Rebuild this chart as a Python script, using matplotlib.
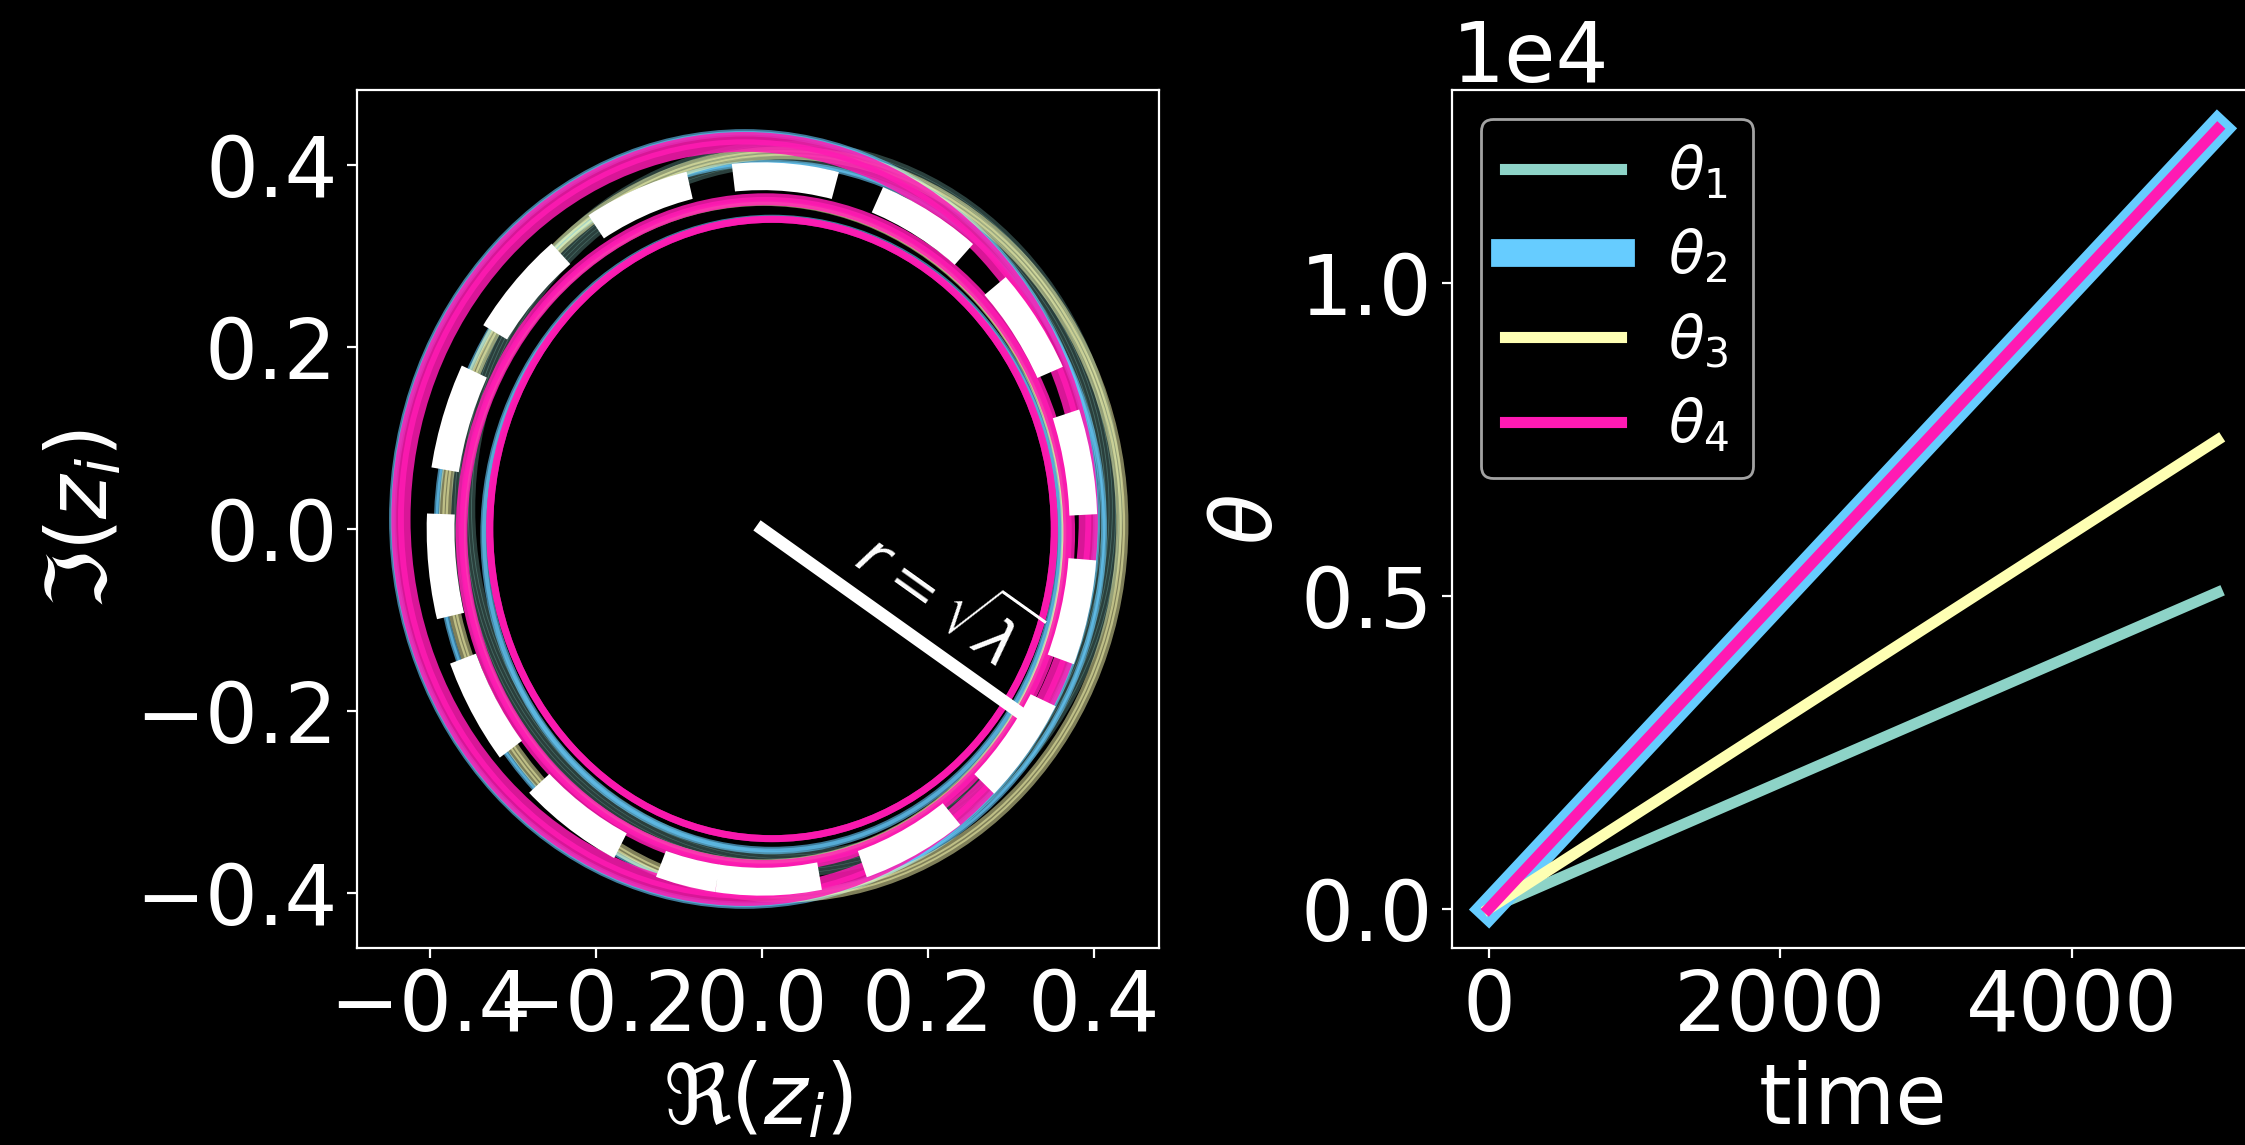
import numpy as np
import matplotlib
matplotlib.use("Agg")
import matplotlib.pyplot as plt
from matplotlib.patches import Ellipse

# ---- phase evolution (right panel) ----
time = [0, 5000]
theta1 = [0, 5060]
theta2 = [0, 12470]
theta3 = [0, 7500]
theta4 = [0, 12470]

# ---- limit-cycle loops in the complex plane (left panel) ----
lam = 0.15

# oscillator 1 (teal): centre x, centre y, radius, half-spread of the bundle, line width
z1_cx = [0.030]
z1_cy = [0.022]
z1_r = [0.390]
z1_spread = [0.012]
z1_lw = [1.5]

# oscillator 2 (blue)
z2_cx = [-0.021, 0.012, 0.010]
z2_cy = [0.011, -0.006, 0.000]
z2_r = [0.424, 0.347, 0.402]
z2_spread = [0.001, 0.001, 0.001]
z2_lw = [2.0, 2.0, 1.5]

# oscillator 3 (yellow)
z3_cx = [0.026, 0.002]
z3_cy = [0.005, -0.004]
z3_r = [0.408, 0.362]
z3_spread = [0.004, 0.001]
z3_lw = [2.0, 1.5]

# oscillator 4 (pink)
z4_cx = [-0.021, 0.004, 0.012]
z4_cy = [0.011, -0.004, 0.000]
z4_r = [0.414, 0.366, 0.340]
z4_spread = [0.004, 0.002, 0.0]
z4_lw = [4.5, 3.0, 2.5]

colors = ["#8dd3c7", "#66ccff", "#feffb3", "#ff1ab3"]

plt.style.use("dark_background")
plt.rcParams["font.size"] = 30

fig = plt.figure(figsize=(11.225, 5.725), dpi=200)
ax1 = fig.add_axes([0.1590, 0.1721, 0.3572, 0.7493])
ax2 = fig.add_axes([0.6468, 0.1721, 0.3572, 0.7493])

ring_sets = [
    (z1_cx, z1_cy, z1_r, z1_spread, z1_lw, colors[0], 0.30, 7),
    (z2_cx, z2_cy, z2_r, z2_spread, z2_lw, colors[1], 0.60, 2),
    (z3_cx, z3_cy, z3_r, z3_spread, z3_lw, colors[2], 0.50, 3),
    (z4_cx, z4_cy, z4_r, z4_spread, z4_lw, colors[3], 0.85, 2),
]
for cxs, cys, rs, spreads, lws, col, alpha, n in ring_sets:
    for cx, cy, r, s, lw in zip(cxs, cys, rs, spreads, lws):
        for dr in np.linspace(-s, s, n):
            d = 2 * (r + dr)
            ax1.add_patch(Ellipse((cx, cy), d, d, fill=False, edgecolor=col,
                                  alpha=alpha, lw=lw, zorder=2))

radius = np.sqrt(lam)
ax1.add_patch(Ellipse((0, 0), 2 * radius, 2 * radius, angle=-8, fill=False,
                      edgecolor="white", ls="--", lw=10, zorder=3))
ang = np.deg2rad(-33)
ax1.plot([0, radius * np.cos(ang)], [0, radius * np.sin(ang)],
         color="white", lw=4.5, zorder=4)
ax1.text(0.218, -0.078, r"$r=\sqrt{\lambda}$", fontsize=22, color="white",
         rotation=-35.5, ha="center", va="center", rotation_mode="anchor",
         zorder=5)

ax1.set_xlim(-0.488, 0.478)
ax1.set_ylim(-0.460, 0.482)
ax1.set_xticks([-0.4, -0.2, 0.0, 0.2, 0.4])
ax1.set_yticks([-0.4, -0.2, 0.0, 0.2, 0.4])
ax1.set_xlabel(r"$\Re(z_i)$")
ax1.set_ylabel(r"$\Im(z_i)$")

ax2.plot(time, theta1, color=colors[0], lw=4, label=r"$\theta_1$")
ax2.plot(time, theta2, color=colors[1], lw=10, label=r"$\theta_2$")
ax2.plot(time, theta3, color=colors[2], lw=4, label=r"$\theta_3$")
ax2.plot(time, theta4, color=colors[3], lw=4, label=r"$\theta_4$")
ax2.ticklabel_format(axis="y", style="sci", scilimits=(0, 0))
ax2.set_xticks([0, 2000, 4000])
ax2.set_xlabel("time")
ax2.set_ylabel(r"$\theta$")
ax2.legend(loc="upper left", fontsize=21, labelspacing=0.44)

fig.savefig("out.png", dpi=200)
